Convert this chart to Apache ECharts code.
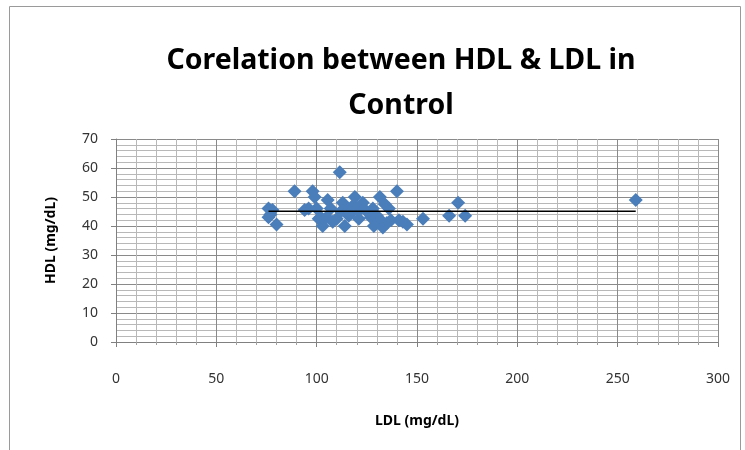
<!DOCTYPE html>
<html>
<head>
<meta charset="utf-8">
<script src="https://cdn.jsdelivr.net/npm/echarts@6/dist/echarts.min.js"></script>
<style>html,body{margin:0;padding:0;background:#fff;}#c{width:745px;height:450px;}</style>
</head>
<body>
<div id="c"></div>
<script>
// LDL (mg/dL) values
var ldl = [76, 77, 76, 80, 78, 89, 94, 96, 98, 99, 100, 101, 102, 103, 105, 105.5, 107, 108, 110, 111.5, 112, 113, 114, 115, 116, 117, 119, 120, 121, 122, 123, 125, 127, 128.5, 130, 131.5, 132, 133, 134, 135, 136, 137, 140, 141, 143, 145, 153, 166, 170.5, 174, 259, 118, 128];
// HDL (mg/dL) values
var hdl = [46, 44, 43, 40.5, 45.5, 52, 45.5, 46, 52, 50, 46, 42.5, 43, 40, 43, 49, 46, 41.5, 42.5, 58.5, 45, 48, 40, 45, 43.5, 44.5, 50, 46, 42.5, 46, 48, 45, 43, 40, 43.5, 50, 42, 39.5, 47.5, 41, 46, 42, 52, 42, 41.5, 40.5, 42.5, 43.5, 48, 43.5, 49, 47, 46];
var xTicks = [0, 50, 100, 150, 200, 250, 300];
var yTicks = [0, 10, 20, 30, 40, 50, 60, 70];

var pts = ldl.map(function (x, i) { return [x, hdl[i]]; });
// least-squares linear trendline
var n = ldl.length, sx = 0, sy = 0, sxx = 0, sxy = 0;
for (var i = 0; i < n; i++) { sx += ldl[i]; sy += hdl[i]; sxx += ldl[i] * ldl[i]; sxy += ldl[i] * hdl[i]; }
var b = (n * sxy - sx * sy) / (n * sxx - sx * sx);
var a = (sy - b * sx) / n;
var xmin = Math.min.apply(null, ldl), xmax = Math.max.apply(null, ldl);
var trend = [[xmin, a + b * xmin], [xmax, a + b * xmax]];

var font = '"Noto Sans", "Open Sans", sans-serif';
var chart = echarts.init(document.getElementById('c'), null, { renderer: 'canvas' });
chart.setOption({
  animation: false,
  backgroundColor: '#ffffff',
  graphic: [{
    type: 'rect', shape: { x: 9.5, y: 6.5, width: 731, height: 460 },
    style: { fill: 'none', stroke: '#9a9a9a', lineWidth: 1 }, z: -10
  }],
  title: {
    text: 'Corelation between HDL & LDL in\nControl',
    left: 396, top: 33, textAlign: 'center',
    textStyle: { fontFamily: font, fontWeight: 'bold', fontSize: 28.5, color: '#000', lineHeight: 45 }
  },
  grid: { left: 116, right: 27, top: 139, bottom: 108 },
  xAxis: {
    type: 'value', min: xTicks[0], max: xTicks[xTicks.length - 1], interval: 50,
    name: 'LDL (mg/dL)', nameLocation: 'middle', nameGap: 72,
    nameTextStyle: { fontFamily: font, fontWeight: 'bold', fontSize: 14, color: '#000' },
    axisLine: { lineStyle: { color: '#808080', width: 1 } },
    axisTick: { show: true, inside: false, length: 5, lineStyle: { color: '#808080' } },
    minorTick: { show: true, splitNumber: 5, length: 3, lineStyle: { color: '#a0a0a0' } },
    axisLabel: { fontFamily: font, fontSize: 14, color: '#333', margin: 30 },
    splitLine: { show: true, lineStyle: { color: '#8a8a8a', width: 1 } },
    minorSplitLine: { show: true, lineStyle: { color: '#b8b8b8', width: 1 } }
  },
  yAxis: {
    type: 'value', min: yTicks[0], max: yTicks[yTicks.length - 1], interval: 10,
    name: 'HDL (mg/dL)', nameLocation: 'middle', nameGap: 58,
    nameTextStyle: { fontFamily: font, fontWeight: 'bold', fontSize: 14, color: '#000' },
    axisLine: { show: true, lineStyle: { color: '#808080', width: 1 } },
    axisTick: { show: true, inside: false, length: 5, lineStyle: { color: '#808080' } },
    minorTick: { show: false, splitNumber: 5 },
    axisLabel: { fontFamily: font, fontSize: 14, color: '#333', margin: 18 },
    splitLine: { show: true, lineStyle: { color: '#8a8a8a', width: 1 } },
    minorSplitLine: { show: true, lineStyle: { color: '#b8b8b8', width: 1 } }
  },
  series: [
    {
      type: 'scatter', data: pts, symbol: 'diamond', symbolSize: 14,
      itemStyle: { color: '#4A7EBB', opacity: 1 }, z: 3
    },
    {
      type: 'line', data: trend, showSymbol: false, symbol: 'none',
      lineStyle: { color: '#000', width: 1.5 }, z: 4, silent: true
    }
  ]
});
</script>
</body>
</html>
